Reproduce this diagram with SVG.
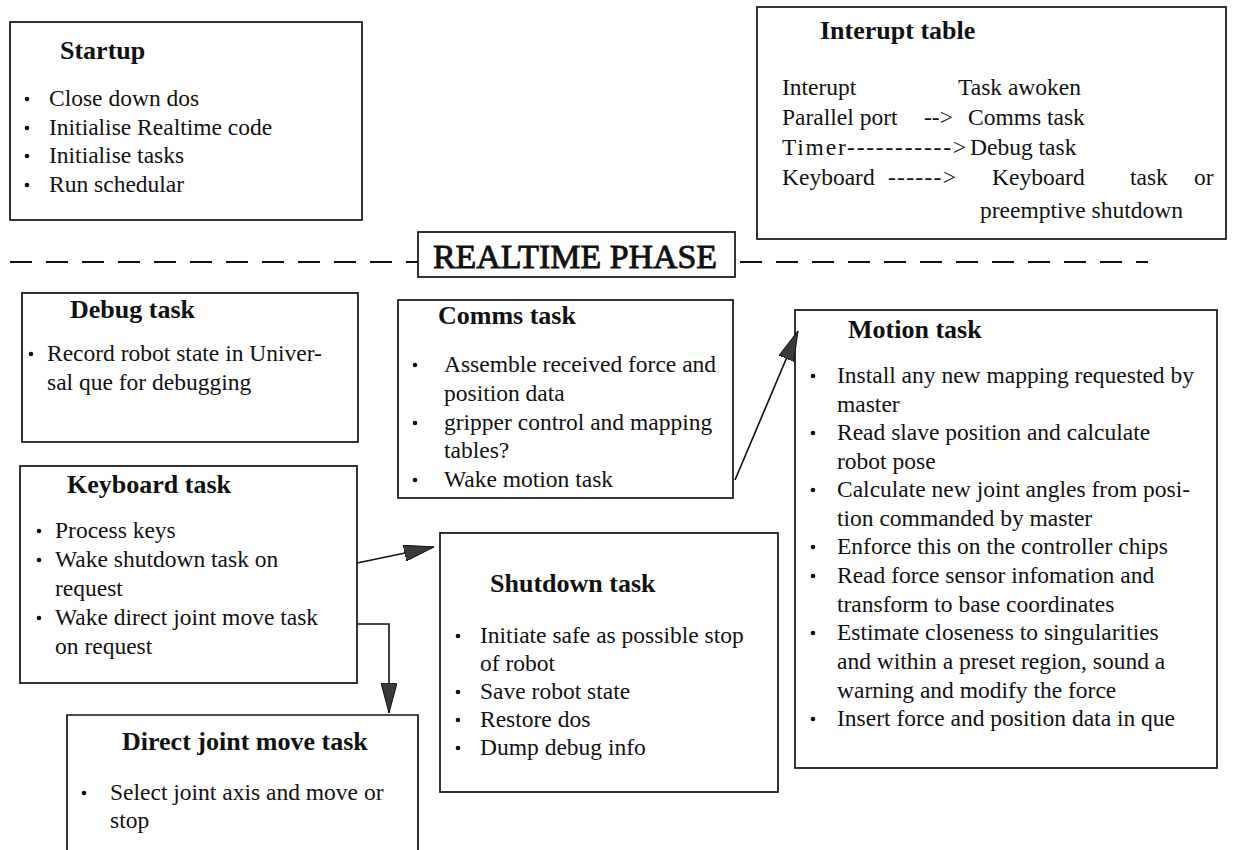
<svg xmlns="http://www.w3.org/2000/svg" width="1234" height="850" viewBox="0 0 1234 850">
<style>
.box{fill:#fff;stroke:#111;stroke-width:1.7}
.t{font-family:"Liberation Serif","Times New Roman",serif;font-size:26px;font-weight:bold;fill:#111}
.b{font-family:"Liberation Serif","Times New Roman",serif;font-size:23.5px;fill:#111}
.dot{fill:#111}
.c{fill:none;stroke:#111;stroke-width:1.6}
.dash{fill:none;stroke:#111;stroke-width:2.2;stroke-dasharray:22 14}
.phase{font-family:"Liberation Serif","Times New Roman",serif;font-size:33.5px;fill:#111;stroke:#111;stroke-width:0.9}
</style>
<defs>
<marker id="ah" viewBox="0 0 30 16" refX="30" refY="8" markerWidth="30" markerHeight="16" markerUnits="userSpaceOnUse" orient="auto">
<path d="M0,0 L30,8 L0,16 Z" fill="#3a3a3a" stroke="#111" stroke-width="1"/>
</marker>
</defs>
<rect width="1234" height="850" fill="#fff"/>

<g id="startup">
<rect class="box" x="10" y="22" width="352" height="198"/>
<text class="t" x="60" y="59">Startup</text>
<circle class="dot" cx="27" cy="99" r="2.3"/><text class="b" x="49" y="106">Close down dos</text>
<circle class="dot" cx="27" cy="128" r="2.3"/><text class="b" x="49" y="135">Initialise Realtime code</text>
<circle class="dot" cx="27" cy="156" r="2.3"/><text class="b" x="49" y="163">Initialise tasks</text>
<circle class="dot" cx="27" cy="185" r="2.3"/><text class="b" x="49" y="192">Run schedular</text>
</g>

<g id="interrupt-table">
<rect class="box" x="757" y="7" width="469" height="232"/>
<text class="t" x="820" y="39">Interupt table</text>
<text class="b" x="782" y="95">Interupt</text><text class="b" x="958" y="95">Task awoken</text>
<text class="b" x="782" y="125">Parallel port</text><text class="b" x="924" y="125">--&gt;</text><text class="b" x="968" y="125">Comms task</text>
<text class="b" x="782" y="155" textLength="184" lengthAdjust="spacing">Timer-----------&gt;</text><text class="b" x="970" y="155">Debug task</text>
<text class="b" x="782" y="185">Keyboard</text><text class="b" x="888" y="185" textLength="68" lengthAdjust="spacing">------&gt;</text><text class="b" x="992" y="185">Keyboard</text><text class="b" x="1130" y="185">task</text><text class="b" x="1194" y="185">or</text>
<text class="b" x="980" y="218">preemptive shutdown</text>
</g>

<g id="realtime-phase">
<path class="dash" d="M10,262 H418"/>
<path class="dash" d="M740,262 H1148"/>
<rect class="box" x="418" y="232" width="317" height="45"/>
<text class="phase" x="433" y="268" textLength="284" lengthAdjust="spacingAndGlyphs">REALTIME PHASE</text>
</g>

<g id="debug-task">
<rect class="box" x="22" y="293" width="336" height="149"/>
<text class="t" x="70" y="318">Debug task</text>
<circle class="dot" cx="31" cy="354" r="2.3"/><text class="b" x="47" y="361">Record robot state in Univer-</text>
<text class="b" x="47" y="390">sal que for debugging</text>
</g>

<g id="comms-task">
<rect class="box" x="398" y="300" width="335" height="198"/>
<text class="t" x="438" y="324">Comms task</text>
<circle class="dot" cx="415" cy="365" r="2.3"/><text class="b" x="444" y="372">Assemble received force and</text>
<text class="b" x="444" y="401">position data</text>
<circle class="dot" cx="415" cy="423" r="2.3"/><text class="b" x="444" y="430">gripper control and mapping</text>
<text class="b" x="444" y="458">tables?</text>
<circle class="dot" cx="415" cy="480" r="2.3"/><text class="b" x="444" y="487">Wake motion task</text>
</g>

<g id="motion-task">
<rect class="box" x="795" y="310" width="422" height="458"/>
<text class="t" x="848" y="338">Motion task</text>
<circle class="dot" cx="813" cy="376" r="2.3"/><text class="b" x="837" y="383">Install any new mapping requested by</text>
<text class="b" x="837" y="412">master</text>
<circle class="dot" cx="813" cy="433" r="2.3"/><text class="b" x="837" y="440">Read slave position and calculate</text>
<text class="b" x="837" y="469">robot pose</text>
<circle class="dot" cx="813" cy="490" r="2.3"/><text class="b" x="837" y="497">Calculate new joint angles from posi-</text>
<text class="b" x="837" y="526">tion commanded by master</text>
<circle class="dot" cx="813" cy="547" r="2.3"/><text class="b" x="837" y="554">Enforce this on the controller chips</text>
<circle class="dot" cx="813" cy="576" r="2.3"/><text class="b" x="837" y="583">Read force sensor infomation and</text>
<text class="b" x="837" y="612">transform to base coordinates</text>
<circle class="dot" cx="813" cy="633" r="2.3"/><text class="b" x="837" y="640">Estimate closeness to singularities</text>
<text class="b" x="837" y="669">and within a preset region, sound a</text>
<text class="b" x="837" y="698">warning and modify the force</text>
<circle class="dot" cx="813" cy="719" r="2.3"/><text class="b" x="837" y="726">Insert force and position data in que</text>
</g>

<g id="keyboard-task">
<rect class="box" x="20" y="466" width="337" height="217"/>
<text class="t" x="67" y="493">Keyboard task</text>
<circle class="dot" cx="39" cy="531" r="2.3"/><text class="b" x="55" y="538">Process keys</text>
<circle class="dot" cx="39" cy="560" r="2.3"/><text class="b" x="55" y="567">Wake shutdown task on</text>
<text class="b" x="55" y="596">request</text>
<circle class="dot" cx="39" cy="618" r="2.3"/><text class="b" x="55" y="625">Wake direct joint move task</text>
<text class="b" x="55" y="654">on request</text>
</g>

<g id="shutdown-task">
<rect class="box" x="440" y="533" width="338" height="259"/>
<text class="t" x="490" y="592">Shutdown task</text>
<circle class="dot" cx="458" cy="636" r="2.3"/><text class="b" x="480" y="643">Initiate safe as possible stop</text>
<text class="b" x="480" y="671">of robot</text>
<circle class="dot" cx="458" cy="692" r="2.3"/><text class="b" x="480" y="699">Save robot state</text>
<circle class="dot" cx="458" cy="720" r="2.3"/><text class="b" x="480" y="727">Restore dos</text>
<circle class="dot" cx="458" cy="748" r="2.3"/><text class="b" x="480" y="755">Dump debug info</text>
</g>

<g id="direct-joint-move-task">
<path class="box" d="M67,860 V715 H418 V860"/>
<text class="t" x="122" y="750">Direct joint move task</text>
<circle class="dot" cx="84" cy="793" r="2.3"/><text class="b" x="110" y="800">Select joint axis and move or</text>
<text class="b" x="110" y="828">stop</text>
</g>

<g id="connectors">
<path class="c" d="M735,480 L798,331" marker-end="url(#ah)"/>
<path class="c" d="M357,563 L434,547" marker-end="url(#ah)"/>
<path class="c" d="M357,624 H389 V713" marker-end="url(#ah)"/>
</g>
</svg>
